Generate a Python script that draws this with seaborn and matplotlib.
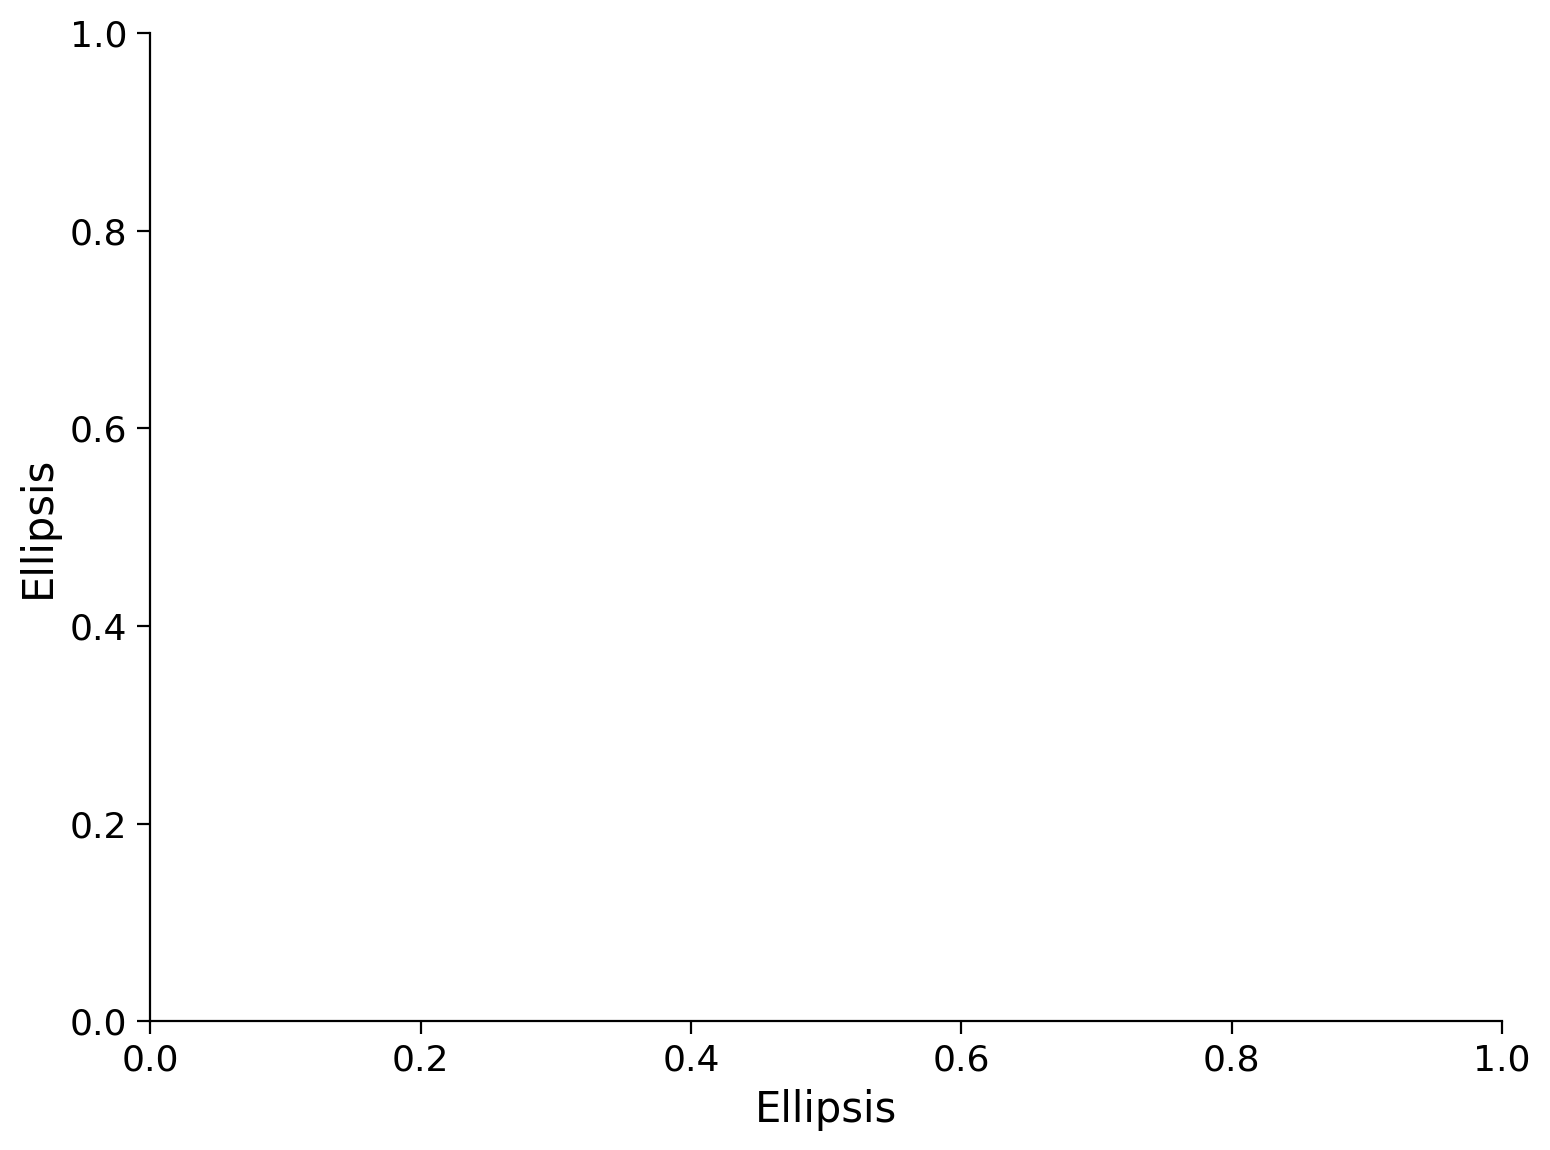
import pandas as pd
import matplotlib.pyplot as plt
import seaborn as sns

# the reference chart carries no marks at all
x_values = []
y_values = []
x_label = 'Ellipsis'
y_label = 'Ellipsis'

df = pd.DataFrame({'x': pd.Series(x_values, dtype=float),
                   'y': pd.Series(y_values, dtype=float)})

sns.set_theme(style='ticks', context='notebook', rc={
    'axes.edgecolor': 'black',
    'axes.labelcolor': 'black',
    'text.color': 'black',
    'xtick.color': 'black',
    'ytick.color': 'black',
    'axes.linewidth': 0.8,
    'xtick.major.width': 0.8,
    'ytick.major.width': 0.8,
    'xtick.major.size': 4.7,
    'ytick.major.size': 4.7,
})
plt.rcParams['font.family'] = ['DejaVu Sans']

fig, ax = plt.subplots(figsize=(7.75, 5.75), dpi=200)
sns.scatterplot(data=df, x='x', y='y', ax=ax)
ax.set_xlim(0, 1)
ax.set_ylim(0, 1)
ax.set_xlabel(x_label, fontsize=15)
ax.set_ylabel(y_label, fontsize=15)
ax.tick_params(labelsize=13)
sns.despine(ax=ax)

fig.subplots_adjust(left=0.097, right=0.969, top=0.971, bottom=0.112)
fig.savefig('out.png', dpi=200)
